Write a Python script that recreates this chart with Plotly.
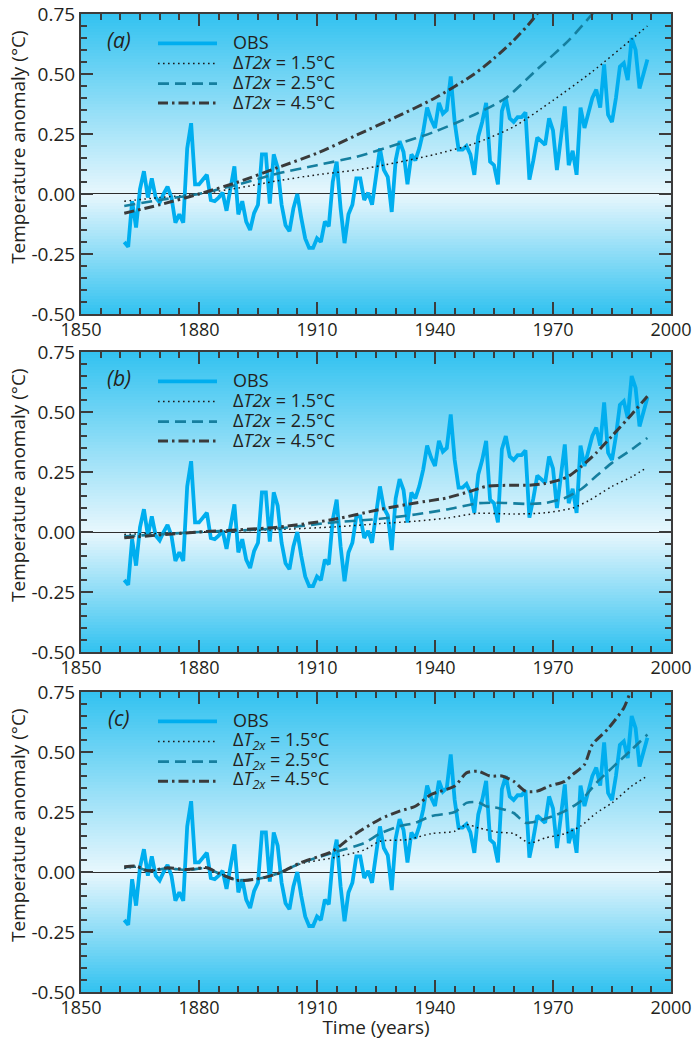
import plotly.graph_objects as go

# ---------------- data ----------------
years_obs = list(range(1861, 1995))
obs_anomaly = [
    -0.20, -0.22, -0.03, -0.14, 0.02, 0.095, -0.015, 0.065, -0.015, -0.035,   # 1861-1870
    0.00, 0.03, -0.015, -0.12, -0.085, -0.12, 0.19, 0.295, 0.04, 0.04,        # 1871-1880
    0.06, 0.08, -0.025, -0.03, -0.015, 0.005, -0.07, 0.025, 0.115, -0.085,    # 1881-1890
    -0.03, -0.115, -0.15, -0.08, -0.045, 0.165, 0.165, -0.04, 0.165, 0.11,    # 1891-1900
    -0.045, -0.13, -0.155, -0.06, 0.00, -0.10, -0.185, -0.225, -0.225, -0.185,  # 1901-1910
    -0.20, -0.115, -0.135, 0.05, 0.135, -0.06, -0.205, -0.085, -0.045, 0.065,  # 1911-1920
    0.065, -0.025, 0.005, -0.045, 0.075, 0.19, 0.10, 0.07, -0.075, 0.14,      # 1921-1930
    0.22, 0.175, 0.04, 0.165, 0.14, 0.19, 0.26, 0.36, 0.31, 0.275,            # 1931-1940
    0.38, 0.335, 0.35, 0.49, 0.30, 0.185, 0.185, 0.20, 0.165, 0.08,           # 1941-1950
    0.24, 0.30, 0.38, 0.135, 0.12, 0.04, 0.345, 0.40, 0.315, 0.30,            # 1951-1960
    0.32, 0.32, 0.34, 0.06, 0.14, 0.235, 0.22, 0.205, 0.315, 0.265,           # 1961-1970
    0.10, 0.24, 0.365, 0.12, 0.18, 0.08, 0.36, 0.275, 0.345, 0.40,            # 1971-1980
    0.435, 0.36, 0.54, 0.33, 0.30, 0.40, 0.53, 0.545, 0.475, 0.65,            # 1981-1990
    0.60, 0.44, 0.50, 0.56,                                                   # 1991-1994
]
assert len(years_obs) == len(obs_anomaly)

# panel (a)
a15_years = [1861, 1870, 1880, 1890, 1900, 1910, 1920, 1930, 1940, 1950, 1960, 1970, 1980, 1990, 1994]
a15_vals = [-0.03, -0.015, 0.0, 0.025, 0.055, 0.08, 0.10, 0.13, 0.165, 0.21, 0.28, 0.39, 0.51, 0.645, 0.70]
a25_years = [1861, 1870, 1880, 1890, 1900, 1910, 1920, 1930, 1940, 1950, 1958, 1966, 1974, 1980, 1985]
a25_vals = [-0.05, -0.025, 0.0, 0.04, 0.085, 0.12, 0.155, 0.205, 0.26, 0.33, 0.40, 0.52, 0.64, 0.75, 0.85]
a45_years = [1861, 1870, 1880, 1890, 1900, 1910, 1920, 1930, 1940, 1950, 1955, 1960, 1965, 1970]
a45_vals = [-0.08, -0.045, 0.0, 0.05, 0.11, 0.17, 0.245, 0.32, 0.40, 0.50, 0.565, 0.64, 0.73, 0.85]

# panel (b)
b15_years = [1861, 1880, 1900, 1915, 1926, 1935, 1943, 1951, 1960, 1968, 1975, 1979, 1985, 1990, 1994]
b15_vals = [-0.01, 0.0, 0.01, 0.022, 0.035, 0.045, 0.058, 0.078, 0.075, 0.08, 0.10, 0.13, 0.19, 0.23, 0.27]
b25_years = [1861, 1880, 1900, 1914, 1926, 1935, 1943, 1951, 1956, 1964, 1968, 1973, 1977, 1981, 1985, 1990, 1994]
b25_vals = [-0.018, 0.0, 0.015, 0.04, 0.055, 0.073, 0.094, 0.12, 0.122, 0.117, 0.121, 0.142, 0.177, 0.233, 0.288, 0.344, 0.392]
b45_years = [1861, 1880, 1900, 1914, 1926, 1935, 1943, 1949, 1953, 1960, 1964, 1968, 1972, 1974, 1977, 1981, 1985, 1990, 1994]
b45_vals = [-0.024, 0.0, 0.02, 0.052, 0.094, 0.121, 0.142, 0.17, 0.19, 0.195, 0.195, 0.202, 0.219, 0.233, 0.27, 0.33, 0.40, 0.49, 0.566]

# panel (c)
c15_years = [1861, 1864, 1867, 1872, 1877, 1882, 1885, 1890, 1895, 1898, 1901, 1906, 1914, 1922, 1926,
             1933, 1939, 1945, 1948, 1951, 1956, 1960, 1964, 1968, 1973, 1977, 1981, 1985, 1990, 1994]
c15_vals = [0.015, 0.02, 0.005, 0.013, 0.008, 0.015, -0.005, -0.033, -0.027, -0.016, 0.0, 0.035, 0.059, 0.092, 0.128,
            0.135, 0.16, 0.17, 0.198, 0.184, 0.166, 0.16, 0.121, 0.142, 0.16, 0.191, 0.246, 0.288, 0.358, 0.40]
c25_years = [1861, 1864, 1867, 1872, 1877, 1882, 1885, 1890, 1895, 1898, 1901, 1906, 1914, 1922, 1926, 1931,
             1935, 1939, 1945, 1948, 1951, 1953, 1956, 1960, 1963, 1966, 1970, 1973, 1977, 1981, 1985, 1990, 1994]
c25_vals = [0.02, 0.022, 0.005, 0.015, 0.008, 0.016, -0.006, -0.035, -0.028, -0.017, 0.0, 0.038, 0.08, 0.121, 0.16, 0.191,
            0.205, 0.233, 0.25, 0.288, 0.291, 0.274, 0.267, 0.246, 0.205, 0.212, 0.233, 0.254, 0.295, 0.371, 0.434, 0.51, 0.573]
c45_years = [1861, 1864, 1867, 1872, 1877, 1882, 1885, 1890, 1895, 1898, 1901, 1906, 1914, 1919, 1926, 1931,
             1935, 1939, 1945, 1948, 1951, 1954, 1957, 1960, 1963, 1966, 1969, 1973, 1975, 1978, 1980, 1984,
             1988, 1990, 1994]
c45_vals = [0.022, 0.025, 0.005, 0.018, 0.01, 0.018, -0.005, -0.035, -0.028, -0.017, 0.0, 0.04, 0.087, 0.15, 0.22, 0.254,
            0.274, 0.323, 0.358, 0.413, 0.42, 0.40, 0.40, 0.378, 0.337, 0.337, 0.358, 0.378, 0.406, 0.448, 0.531, 0.597,
            0.684, 0.76, 0.85]

panel_labels = ["(a)", "(b)", "(c)"]
legend_texts_ab = ["OBS", "Δ<i>T2x</i> = 1.5°C", "Δ<i>T2x</i> = 2.5°C", "Δ<i>T2x</i> = 4.5°C"]
legend_texts_c = ["OBS", "Δ<i>T</i><sub><i>2x</i></sub> = 1.5°C", "Δ<i>T</i><sub><i>2x</i></sub> = 2.5°C",
                  "Δ<i>T</i><sub><i>2x</i></sub> = 4.5°C"]
y_title = "Temperature anomaly (°C)"
x_title = "Time (years)"
x_tick_vals = [1850, 1880, 1910, 1940, 1970, 2000]
x_tick_text = ["1850", "1880", "1910", "1940", "1970", "2000"]
y_tick_vals = [-0.5, -0.25, 0.0, 0.25, 0.5, 0.75]
y_tick_text = ["-0.50", "-0.25", "0.00", "0.25", "0.50", "0.75"]

# ---------------- style ----------------
FONT = "Open Sans"
TXT = "#231f20"
AX = "#3c3c3c"
OBS_C = "#00aeef"
C15 = "#1a1a1a"
C25 = "#157f9f"
C45 = "#3a3a3a"
TOP_RGB = (50, 194, 240)
MID_RGB = (232, 247, 253)
YTICK_FS = 19
XTICK_FS = 18
TITLE_FS = 19
LEG_FS = 18

styles = [
    dict(color=C15, width=1.5, dash="1.6px,3.4px"),
    dict(color=C25, width=2.6, dash="11px,6px"),
    dict(color=C45, width=3.0, dash="10px,4px,2.5px,4px"),
]

panels = [
    [(a15_years, a15_vals), (a25_years, a25_vals), (a45_years, a45_vals)],
    [(b15_years, b15_vals), (b25_years, b25_vals), (b45_years, b45_vals)],
    [(c15_years, c15_vals), (c25_years, c25_vals), (c45_years, c45_vals)],
]

domains = [[0.6933, 1.0], [0.3476, 0.6544], [0.0, 0.3067]]

fig = go.Figure()
shapes = []
annotations = []


def grad_color(v):
    t = v / 0.75 if v >= 0 else -v / 0.5
    t = max(0.0, min(1.0, t))
    r = [round(MID_RGB[k] + (TOP_RGB[k] - MID_RGB[k]) * t) for k in range(3)]
    return f"rgb({r[0]},{r[1]},{r[2]})"


for i in range(3):
    n = i + 1
    xr = "x" if n == 1 else f"x{n}"
    yr = "y" if n == 1 else f"y{n}"

    # gradient background: overlapping strips (no seams)
    step = 0.0125
    nstrips = int(round(1.25 / step))
    for k in range(nstrips):
        y0 = -0.5 + k * step
        y1 = min(0.75, y0 + step * 2.2)
        shapes.append(dict(type="rect", xref=f"{xr} domain", yref=yr, x0=0, x1=1, y0=y0, y1=y1,
                           fillcolor=grad_color(y0 + step / 2), line=dict(width=0), layer="below"))

    fig.add_trace(go.Scatter(x=years_obs, y=obs_anomaly, mode="lines", xaxis=xr, yaxis=yr,
                             line=dict(color=OBS_C, width=3.8), showlegend=False, hoverinfo="skip"))
    for (yy, vv), st in zip(panels[i], styles):
        fig.add_trace(go.Scatter(x=yy, y=vv, mode="lines", xaxis=xr, yaxis=yr,
                                 line=dict(color=st["color"], width=st["width"], dash=st["dash"],
                                           shape="spline", smoothing=0.7),
                                 showlegend=False, hoverinfo="skip"))

    # manual legend
    row_y = [0.902, 0.835, 0.768, 0.703]
    leg_styles = [dict(color=OBS_C, width=3.8, dash="solid")] + styles
    texts = legend_texts_c if n == 3 else legend_texts_ab
    for ry, st, tx in zip(row_y, leg_styles, texts):
        shapes.append(dict(type="line", xref=f"{xr} domain", yref=f"{yr} domain",
                           x0=0.1305, x1=0.2305, y0=ry, y1=ry, layer="above",
                           line=dict(color=st["color"], width=st["width"], dash=st["dash"])))
        annotations.append(dict(xref=f"{xr} domain", yref=f"{yr} domain", x=0.2545, y=ry + 0.005,
                                xanchor="left", yanchor="middle", showarrow=False, text=tx,
                                font=dict(family=FONT, size=LEG_FS, color=TXT)))
    annotations.append(dict(xref=f"{xr} domain", yref=f"{yr} domain", x=0.0636, y=0.913,
                            xanchor="center", yanchor="middle", showarrow=False,
                            text=f"<i>{panel_labels[i]}</i>", font=dict(family=FONT, size=21, color=TXT)))
    # y-axis title (placed slightly above the panel centre, as in the original)
    annotations.append(dict(xref="paper", yref=f"{yr} domain", x=-0.1068, y=0.557,
                            xanchor="center", yanchor="middle", showarrow=False, textangle=-90,
                            text=y_title, font=dict(family=FONT, size=TITLE_FS, color=TXT)))

    xaxis = dict(domain=[0, 1], anchor=yr, range=[1850, 2000], tickmode="array", automargin=False,
                 tickvals=x_tick_vals, ticktext=x_tick_text, ticks="inside", ticklen=12, tickwidth=2,
                 tickcolor=AX, showline=True, linecolor=AX, linewidth=2, mirror="ticks",
                 showgrid=False, zeroline=False, ticklabeloverflow="allow", ticklabelstandoff=-2,
                 minor=dict(ticks="inside", ticklen=6, tickwidth=1.5, tickcolor=AX,
                            tickmode="linear", tick0=1850, dtick=5, showgrid=False),
                 tickfont=dict(family=FONT, size=XTICK_FS, color=TXT))
    yaxis = dict(domain=domains[i], anchor=xr, range=[-0.5, 0.75], tickmode="array", automargin=False,
                 tickvals=y_tick_vals, ticktext=y_tick_text, ticks="inside", ticklen=12, tickwidth=2,
                 tickcolor=AX, showline=True, linecolor=AX, linewidth=2, mirror="ticks",
                 showgrid=False, zeroline=True, zerolinecolor="#2e2e2e", zerolinewidth=1.2,
                 ticklabeloverflow="allow",
                 minor=dict(ticks="inside", ticklen=6, tickwidth=1.5, tickcolor=AX,
                            tickmode="linear", tick0=-0.5, dtick=0.05, showgrid=False),
                 tickfont=dict(family=FONT, size=YTICK_FS, color=TXT))
    if n == 3:
        xaxis["title"] = dict(text=x_title, font=dict(family=FONT, size=TITLE_FS, color=TXT), standoff=2)
    fig.update_layout({("xaxis" if n == 1 else f"xaxis{n}"): xaxis,
                       ("yaxis" if n == 1 else f"yaxis{n}"): yaxis})

fig.update_layout(
    width=692, height=1040,
    margin=dict(l=81, r=21, t=14, b=48, autoexpand=False),
    paper_bgcolor="white", plot_bgcolor="rgba(0,0,0,0)",
    font=dict(family=FONT, size=YTICK_FS, color=TXT),
    shapes=shapes, annotations=annotations, showlegend=False,
)

fig.write_html("out.html", config={"displayModeBar": False},
               post_script="document.body.style.margin='0';document.body.style.overflow='hidden';")
